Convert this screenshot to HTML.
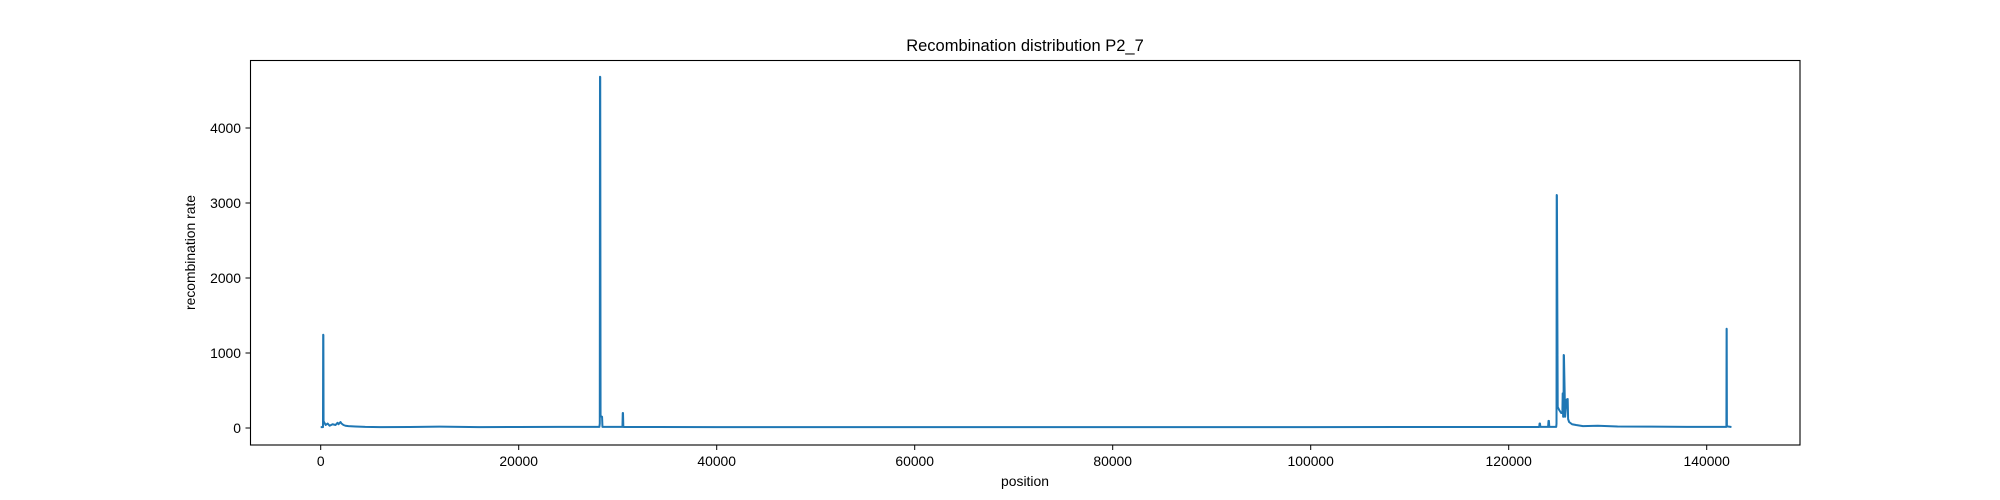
<!DOCTYPE html>
<html><head><meta charset="utf-8"><style>
html,body{margin:0;padding:0;background:#fff;}
svg{display:block;font-family:"Liberation Sans","DejaVu Sans",sans-serif;}
</style></head><body>
<svg id="chart" width="2000" height="500" viewBox="0 0 2000 500">
<rect x="0" y="0" width="2000" height="500" fill="#fff"/>
<text x="1025" y="51" text-anchor="middle" font-size="16.5" fill="#000">Recombination distribution P2_7</text>
<g id="plot"></g>
<g id="xticks"></g>
<g id="yticks"></g>
<rect x="250.5" y="60.5" width="1549.5" height="384.5" fill="none" stroke="#000" stroke-width="1.1"/>
<text x="1025" y="486" text-anchor="middle" font-size="13.9" fill="#000">position</text>
<text transform="translate(195,252.5) rotate(-90)" text-anchor="middle" font-size="13.9" fill="#000">recombination rate</text>
</svg>
<script>
const xTicks = [0, 20000, 40000, 60000, 80000, 100000, 120000, 140000];
const yTicks = [0, 1000, 2000, 3000, 4000];
const positions = [0, 230, 250, 270, 290, 500, 700, 900, 1200, 1500, 1700, 1800, 2000, 2100, 2300, 2500, 2800, 3500, 4500, 6000, 9000, 12000, 16000, 20000, 24000, 28150, 28190, 28212, 28235, 28270, 28420, 28460, 28600, 30480, 30510, 30535, 30570, 30600, 34000, 40000, 50000, 60000, 70000, 80000, 90000, 100000, 110000, 118000, 123080, 123120, 123160, 123200, 123980, 124020, 124063, 124100, 124800, 124830, 124848, 124870, 124950, 125100, 125300, 125420, 125455, 125500, 125540, 125555, 125580, 125700, 125850, 125960, 126000, 126100, 126400, 126800, 127500, 129000, 131000, 134000, 138000, 141990, 142010, 142020, 142040, 142150, 142500];
const rates = [12, 12, 1244, 1240, 90, 40, 60, 30, 50, 40, 70, 50, 80, 60, 40, 30, 25, 20, 15, 12, 14, 18, 12, 14, 15, 15, 60, 4684, 4680, 160, 150, 15, 15, 15, 200, 200, 15, 14, 13, 12, 12, 12, 12, 12, 12, 12, 13, 14, 14, 60, 60, 15, 15, 95, 95, 15, 15, 60, 3107, 3100, 280, 240, 200, 200, 462, 150, 150, 973, 970, 150, 380, 387, 120, 80, 50, 40, 25, 30, 20, 18, 15, 15, 1324, 1320, 30, 20, 14];
const X0 = 320.7, XS = 0.0099, Y0 = 428, YS = 0.075;
const xScale = v => X0 + v * XS;
const yScale = v => Y0 - v * YS;
const NS = 'http://www.w3.org/2000/svg';
const plot = document.getElementById('plot');
let d = '';
for (let i = 0; i < positions.length; i++) {
  d += (i ? 'L' : 'M') + xScale(positions[i]).toFixed(2) + ',' + yScale(rates[i]).toFixed(2);
}
const path = document.createElementNS(NS, 'path');
path.setAttribute('d', d);
path.setAttribute('fill', 'none');
path.setAttribute('stroke', '#1f77b4');
path.setAttribute('stroke-width', '2');
path.setAttribute('stroke-linejoin', 'round');


plot.appendChild(path);
const xg = document.getElementById('xticks');
xTicks.forEach(t => {
  const x = xScale(t);
  const l = document.createElementNS(NS, 'line');
  l.setAttribute('x1', x); l.setAttribute('x2', x); l.setAttribute('y1', 445); l.setAttribute('y2', 450);
  l.setAttribute('stroke', '#000'); l.setAttribute('stroke-width', '1');
  
  
  xg.appendChild(l);
  const tx = document.createElementNS(NS, 'text');
  tx.setAttribute('x', x); tx.setAttribute('y', 466); tx.setAttribute('text-anchor', 'middle');
  tx.setAttribute('font-size', '13.9');
  tx.textContent = t;
  
  
  xg.appendChild(tx);
});
const yg = document.getElementById('yticks');
yTicks.forEach(t => {
  const y = yScale(t);
  const l = document.createElementNS(NS, 'line');
  l.setAttribute('x1', 245.5); l.setAttribute('x2', 250.5); l.setAttribute('y1', y); l.setAttribute('y2', y);
  l.setAttribute('stroke', '#000'); l.setAttribute('stroke-width', '1');
  
  
  yg.appendChild(l);
  const tx = document.createElementNS(NS, 'text');
  tx.setAttribute('x', 241); tx.setAttribute('y', y + 5); tx.setAttribute('text-anchor', 'end');
  tx.setAttribute('font-size', '13.9');
  tx.textContent = t;
  
  
  yg.appendChild(tx);
});
</script>
</body></html>
